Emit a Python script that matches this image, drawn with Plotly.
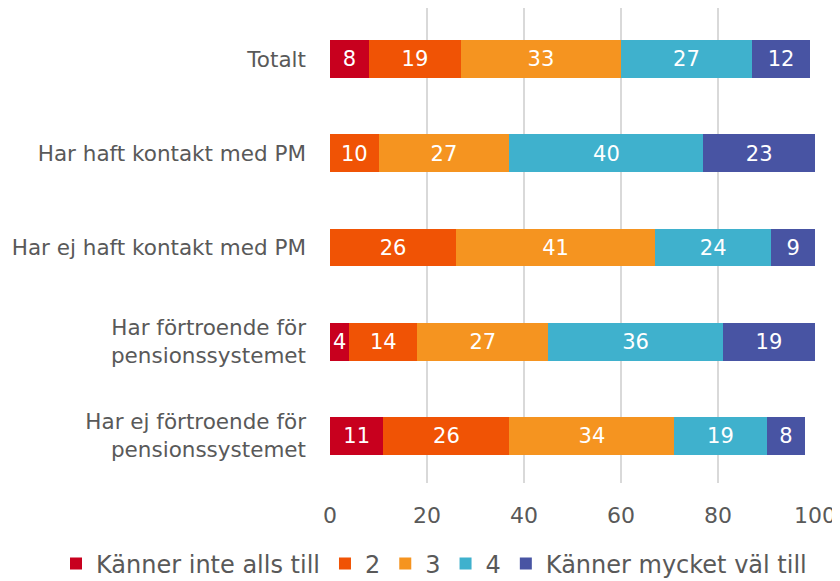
import plotly.graph_objects as go

categories = ["Totalt", "Har haft kontakt med PM", "Har ej haft kontakt med PM",
              "Har förtroende för<br>pensionssystemet", "Har ej förtroende för<br>pensionssystemet"]
series_names = ["Känner inte alls till", "2", "3", "4", "Känner mycket väl till"]
v1 = [8, None, None, 4, 11]
v2 = [19, 10, 26, 14, 26]
v3 = [33, 27, 41, 27, 34]
v4 = [27, 40, 24, 36, 19]
v5 = [12, 23, 9, 19, 8]
colors = ["#C8001E", "#F05305", "#F59420", "#3FB1CD", "#4854A3"]
x_ticks = [0, 20, 40, 60, 80, 100]

font_family = "DejaVu Sans, Verdana, sans-serif"
fig = go.Figure()
for name, vals, col in zip(series_names, [v1, v2, v3, v4, v5], colors):
    fig.add_trace(go.Bar(
        y=categories, x=vals, name=name, orientation="h",
        marker=dict(color=col, line=dict(width=0)),
        text=[("" if v is None else str(v)) for v in vals],
        textposition="inside", insidetextanchor="middle",
        textfont=dict(color="white", size=22.5, family=font_family),
        hoverinfo="skip",
    ))

# page has an 8px body margin: figure coords = reference coords - 8
W, H = 840, 581
ml, mr, mt, mb = 0, 33, 0, 106
pw = W - ml - mr
ph = H - mt - mb
fig.update_layout(
    barmode="stack", bargap=0.6,
    width=W, height=H,
    margin=dict(l=ml, r=mr, t=mt, b=mb, autoexpand=False),
    plot_bgcolor="white", paper_bgcolor="white",
    font=dict(family=font_family, color="#595959", size=21.5),
    showlegend=True,
    legend=dict(orientation="h", x=(426 - ml) / pw, xanchor="center",
                y=-(556 - ph) / ph, yanchor="middle",
                font=dict(size=24, color="#595959"), traceorder="normal",
                itemwidth=30, tracegroupgap=0),
    uniformtext=dict(mode="show", minsize=10),
)
fig.update_xaxes(domain=[(322 - ml) / pw, 1], range=[0, 100], tickvals=x_ticks,
                 showgrid=True, gridcolor="#D9D9D9",
                 gridwidth=2, zeroline=False, showline=False,
                 tickfont=dict(size=22, color="#595959"), ticks="", ticklen=0,
                 ticklabelstandoff=17)
fig.update_yaxes(range=[4.5, -0.541], showgrid=False, showline=False, ticks="",
                 tickfont=dict(size=21.5, color="#595959"), ticklabelstandoff=23)
fig.write_html("out.html")
